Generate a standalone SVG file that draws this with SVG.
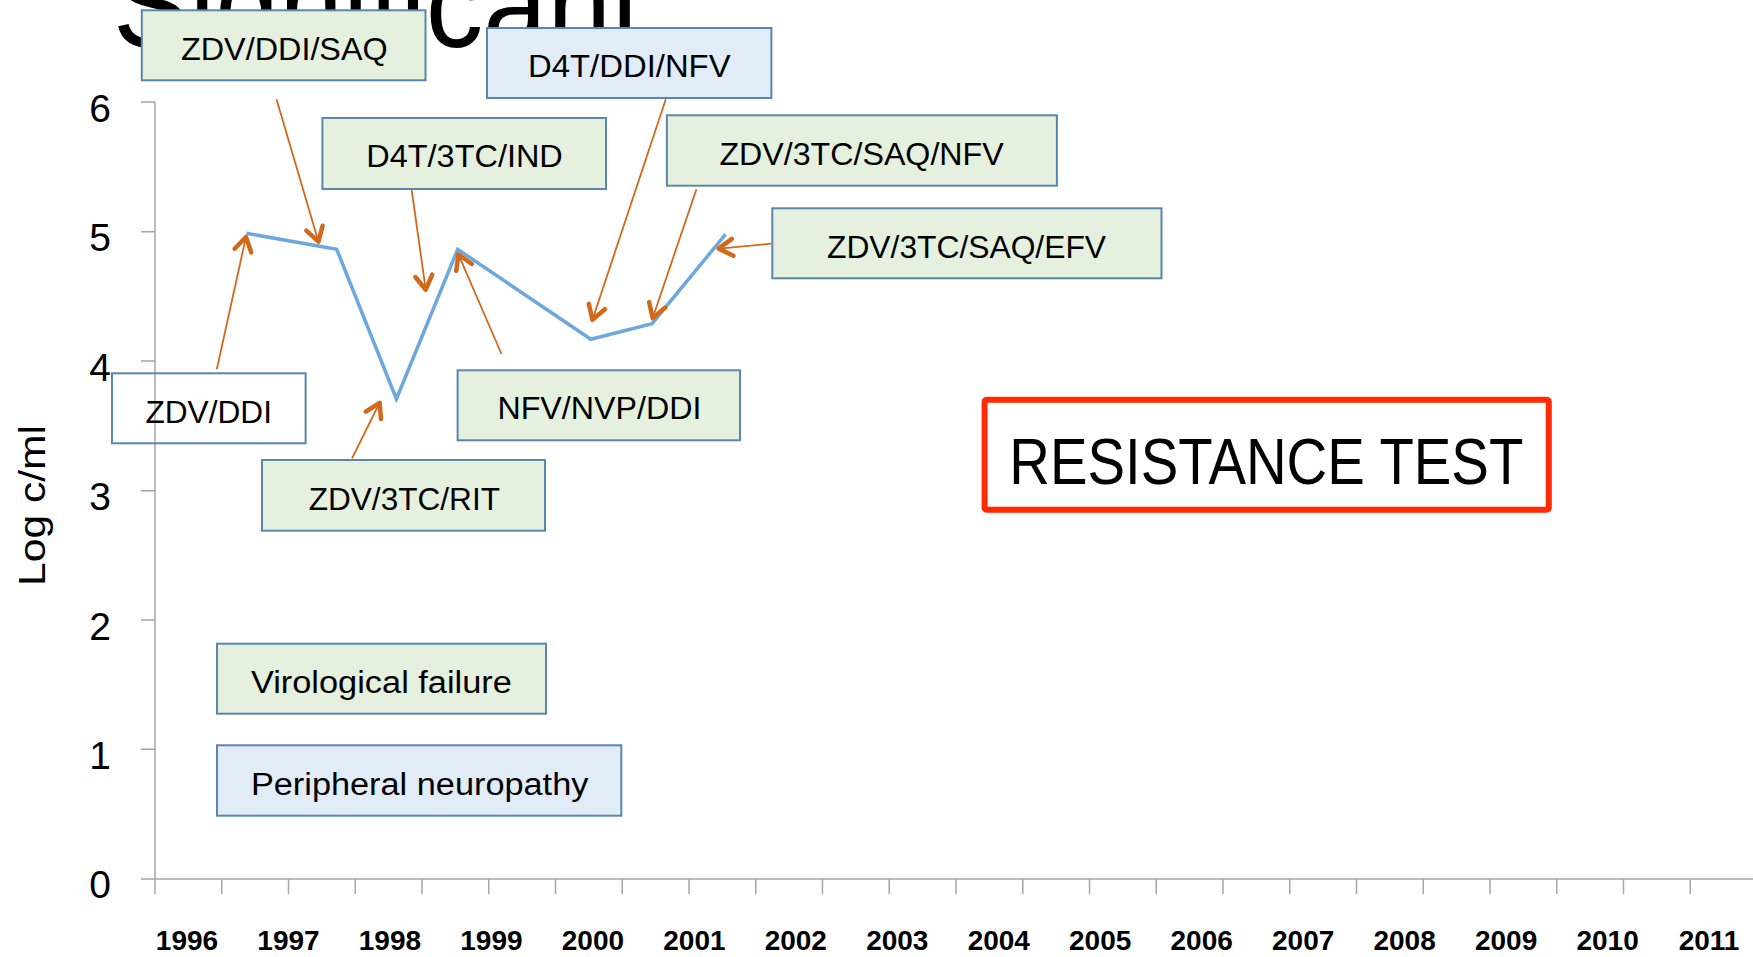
<svg xmlns="http://www.w3.org/2000/svg" width="1753" height="957" viewBox="0 0 1753 957">
<style>
.box{stroke:#5A86B0;stroke-width:2}
.g{fill:#E6F0DE}
.b{fill:#E2ECF7}
.lbl{font-family:"Liberation Sans",Arial,sans-serif;font-size:31px;fill:#000}
.ax{stroke:#A6A6A6;stroke-width:1.5;fill:none}
.ytl{font-family:"Liberation Sans",Arial,sans-serif;font-size:39px;fill:#000;text-anchor:end}
.yr{font-family:"Liberation Sans",Arial,sans-serif;font-size:28px;font-weight:bold;fill:#000;text-anchor:middle}
.arr{stroke:#D2691A;stroke-width:1.8;fill:none;marker-end:url(#ah)}
</style>
<defs>
<marker id="ah" markerUnits="userSpaceOnUse" orient="auto" refX="0" refY="0" markerWidth="40" markerHeight="40" viewBox="-20 -20 40 40" overflow="visible">
<path d="M-16,-8.5 L-2,0 L-16,8.5" fill="none" stroke="#D2691A" stroke-width="4.5" stroke-linecap="round" stroke-linejoin="round"/>
</marker>
</defs>
<rect width="1753" height="957" fill="#fff"/>
<text x="113" y="47" font-family="Liberation Sans,Arial,sans-serif" font-size="125" textLength="530" lengthAdjust="spacingAndGlyphs" fill="#000">Significant</text>
<g id="axes">
<path class="ax" d="M155,102 V879 M141,879 H1753 M141,102 H155 M141,231.7 H155 M141,361 H155 M141,490.7 H155 M141,620 H155 M141,749.3 H155"/>
<path class="ax" d="M155,879v15 M221.75,879v15 M288.5,879v15 M355.25,879v15 M422,879v15 M488.75,879v15 M555.5,879v15 M622.25,879v15 M689,879v15 M755.75,879v15 M822.5,879v15 M889.25,879v15 M956,879v15 M1022.75,879v15 M1089.5,879v15 M1156.25,879v15 M1223,879v15 M1289.75,879v15 M1356.5,879v15 M1423.25,879v15 M1490,879v15 M1556.75,879v15 M1623.5,879v15 M1690.25,879v15"/>
<text class="ytl" x="111" y="121.5">6</text>
<text class="ytl" x="111" y="251">5</text>
<text class="ytl" x="111" y="380.5">4</text>
<text class="ytl" x="111" y="510">3</text>
<text class="ytl" x="111" y="639.5">2</text>
<text class="ytl" x="111" y="768.5">1</text>
<text class="ytl" x="111" y="898">0</text>
<text transform="translate(45,586) rotate(-90)" x="0" y="0" font-family="Liberation Sans,Arial,sans-serif" font-size="37" textLength="161" lengthAdjust="spacingAndGlyphs" fill="#000">Log c/ml</text>
<text class="yr" x="187" y="950">1996</text>
<text class="yr" x="288.5" y="950">1997</text>
<text class="yr" x="389.9" y="950">1998</text>
<text class="yr" x="491.4" y="950">1999</text>
<text class="yr" x="592.9" y="950">2000</text>
<text class="yr" x="694.4" y="950">2001</text>
<text class="yr" x="795.8" y="950">2002</text>
<text class="yr" x="897.3" y="950">2003</text>
<text class="yr" x="998.8" y="950">2004</text>
<text class="yr" x="1100.2" y="950">2005</text>
<text class="yr" x="1201.7" y="950">2006</text>
<text class="yr" x="1303.2" y="950">2007</text>
<text class="yr" x="1404.6" y="950">2008</text>
<text class="yr" x="1506.1" y="950">2009</text>
<text class="yr" x="1607.6" y="950">2010</text>
<text class="yr" x="1709" y="950">2011</text>
</g>
<g id="viral-load">
<polyline points="246.4,233.3 336.7,249.3 396.4,399 457.7,249.3 590.8,339.3 652,323.7 725.5,234.3" fill="none" stroke="#6CA8DE" stroke-width="3.5" stroke-linejoin="miter"/>
</g>
<g id="connectors">
<line class="arr" x1="216.8" y1="369.3" x2="246.4" y2="235"/>
<line class="arr" x1="276.5" y1="99.3" x2="319" y2="243.5"/>
<line class="arr" x1="411.7" y1="190" x2="426" y2="291.7"/>
<line class="arr" x1="352" y1="458.3" x2="380.5" y2="401"/>
<line class="arr" x1="501.5" y1="354" x2="457.7" y2="252.7"/>
<line class="arr" x1="665.8" y1="99.3" x2="591.8" y2="321.7"/>
<line class="arr" x1="696.4" y1="189.3" x2="652" y2="320"/>
<line class="arr" x1="771" y1="243.7" x2="716.7" y2="248.8"/>
</g>
<g id="n-zdv-ddi-saq">
<rect class="box g" x="141.8" y="10.3" width="283.7" height="70"/>
<text class="lbl" x="181" y="60" textLength="206.7" lengthAdjust="spacingAndGlyphs">ZDV/DDI/SAQ</text>
</g>
<g id="n-d4t-ddi-nfv">
<rect class="box b" x="487" y="28" width="284.4" height="70"/>
<text class="lbl" x="528" y="77.3" textLength="202.6" lengthAdjust="spacingAndGlyphs">D4T/DDI/NFV</text>
</g>
<g id="n-d4t-3tc-ind">
<rect class="box g" x="322.4" y="118" width="283.6" height="71"/>
<text class="lbl" x="366.3" y="167.3" textLength="196.5" lengthAdjust="spacingAndGlyphs">D4T/3TC/IND</text>
</g>
<g id="n-zdv-3tc-saq-nfv">
<rect class="box g" x="666.9" y="115.3" width="390" height="70.4"/>
<text class="lbl" x="719.4" y="165" textLength="284.3" lengthAdjust="spacingAndGlyphs">ZDV/3TC/SAQ/NFV</text>
</g>
<g id="n-zdv-3tc-saq-efv">
<rect class="box g" x="772.3" y="208.3" width="389.2" height="70"/>
<text class="lbl" x="827" y="257.7" textLength="279" lengthAdjust="spacingAndGlyphs">ZDV/3TC/SAQ/EFV</text>
</g>
<g id="n-zdv-ddi">
<rect class="box" fill="none" x="112" y="373.3" width="193.6" height="70"/>
<text class="lbl" x="145.4" y="422.7" textLength="126.6" lengthAdjust="spacingAndGlyphs">ZDV/DDI</text>
</g>
<g id="n-nfv-nvp-ddi">
<rect class="box g" x="457.6" y="370.3" width="282.4" height="70"/>
<text class="lbl" x="497.4" y="419.3" textLength="204" lengthAdjust="spacingAndGlyphs">NFV/NVP/DDI</text>
</g>
<g id="n-zdv-3tc-rit">
<rect class="box g" x="262" y="460" width="283" height="70.7"/>
<text class="lbl" x="308.7" y="509.5" textLength="191.3" lengthAdjust="spacingAndGlyphs">ZDV/3TC/RIT</text>
</g>
<g id="n-virological-failure">
<rect class="box g" x="217" y="643.7" width="329" height="70"/>
<text class="lbl" x="250.9" y="692.7" textLength="261" lengthAdjust="spacingAndGlyphs">Virological failure</text>
</g>
<g id="n-peripheral-neuropathy">
<rect class="box b" x="217" y="745.3" width="404.3" height="70.4"/>
<text class="lbl" x="250.9" y="795" textLength="337.5" lengthAdjust="spacingAndGlyphs">Peripheral neuropathy</text>
</g>
<g id="n-resistance-test">
<rect x="984.6" y="399.7" width="564.2" height="110" rx="2" fill="#fff" stroke="#FF2A00" stroke-width="6"/>
<text x="1009.3" y="484" font-family="Liberation Sans,Arial,sans-serif" font-size="64" textLength="514" lengthAdjust="spacingAndGlyphs" fill="#000">RESISTANCE TEST</text>
</g>
</svg>
